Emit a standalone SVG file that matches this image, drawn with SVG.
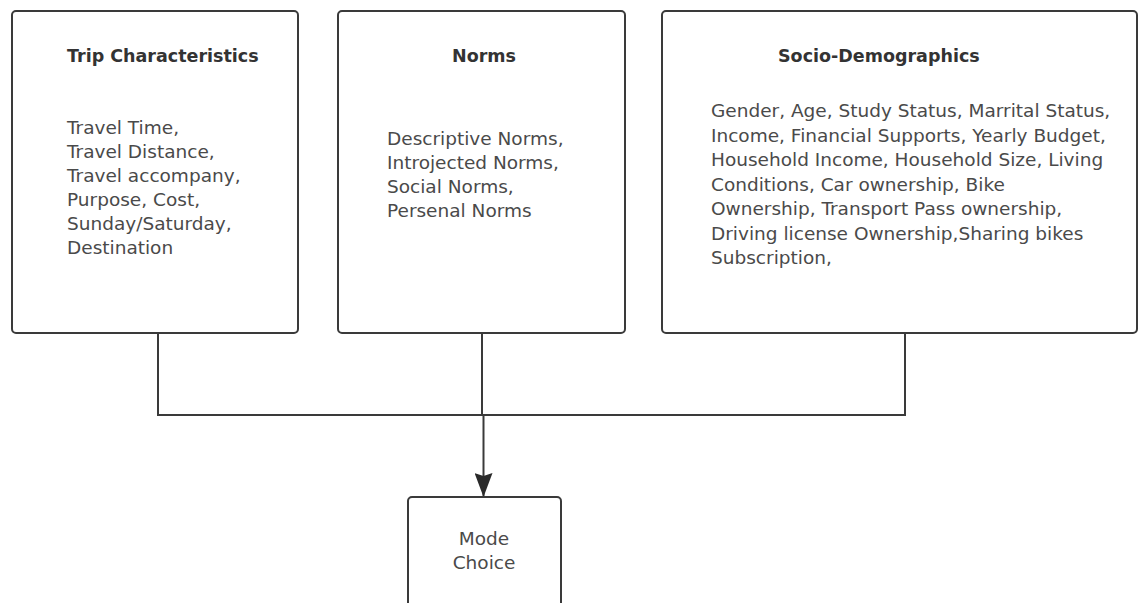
<svg xmlns="http://www.w3.org/2000/svg" width="1139" height="603" viewBox="0 0 1139 603">
<defs>
<style>
.box{fill:#fff;stroke:#3a3a3a;stroke-width:2}
.title{font-family:"DejaVu Sans","Liberation Sans",sans-serif;font-weight:bold;font-size:17.5px;fill:#333}
.body{font-family:"DejaVu Sans","Liberation Sans",sans-serif;font-size:18.5px;fill:#4a4a4a}
.conn{fill:none;stroke:#3a3a3a;stroke-width:2}
</style>
<marker id="arrow" viewBox="0 0 24 18" refX="24" refY="9" markerWidth="24" markerHeight="18" markerUnits="userSpaceOnUse" orient="auto">
<path d="M0,0 L24,9 L0,18 L3,9 z" fill="#2a2a2a"/>
</marker>
</defs>
<rect width="1139" height="603" fill="#fff"/>
<g id="connectors">
<path class="conn" d="M158,333 V415 H905 V333"/>
<path class="conn" d="M482,333 V415"/>
<path class="conn" d="M483.5,415 V497" stroke-width="2.5" marker-end="url(#arrow)"/>
</g>
<g id="trip">
<rect class="box" x="12" y="11" width="286" height="322" rx="4"/>
<text class="title" x="67" y="62">Trip Characteristics</text>
<text class="body"><tspan x="67" y="134">Travel Time,</tspan><tspan x="67" y="158">Travel Distance,</tspan><tspan x="67" y="182">Travel accompany,</tspan><tspan x="67" y="206">Purpose, Cost,</tspan><tspan x="67" y="230">Sunday/Saturday,</tspan><tspan x="67" y="254">Destination</tspan></text>
</g>
<g id="norms">
<rect class="box" x="338" y="11" width="287" height="322" rx="4"/>
<text class="title" x="484" y="62" text-anchor="middle">Norms</text>
<text class="body"><tspan x="387" y="145">Descriptive Norms,</tspan><tspan x="387" y="169">Introjected Norms,</tspan><tspan x="387" y="193">Social Norms,</tspan><tspan x="387" y="217">Persenal Norms</tspan></text>
</g>
<g id="socio">
<rect class="box" x="662" y="11" width="475" height="322" rx="4"/>
<text class="title" x="778" y="62">Socio-Demographics</text>
<text class="body"><tspan x="711" y="117">Gender, Age, Study Status, Marrital Status,</tspan><tspan x="711" y="141.5">Income, Financial Supports, Yearly Budget,</tspan><tspan x="711" y="166">Household Income, Household Size, Living</tspan><tspan x="711" y="190.5">Conditions, Car ownership, Bike</tspan><tspan x="711" y="215">Ownership, Transport Pass ownership,</tspan><tspan x="711" y="239.5">Driving license Ownership,Sharing bikes</tspan><tspan x="711" y="264">Subscription,</tspan></text>
</g>
<g id="mode">
<rect class="box" x="408" y="497" width="153" height="115" rx="4"/>
<text class="body" x="484" y="545" text-anchor="middle">Mode</text>
<text class="body" x="484" y="569" text-anchor="middle">Choice</text>
</g>
</svg>
